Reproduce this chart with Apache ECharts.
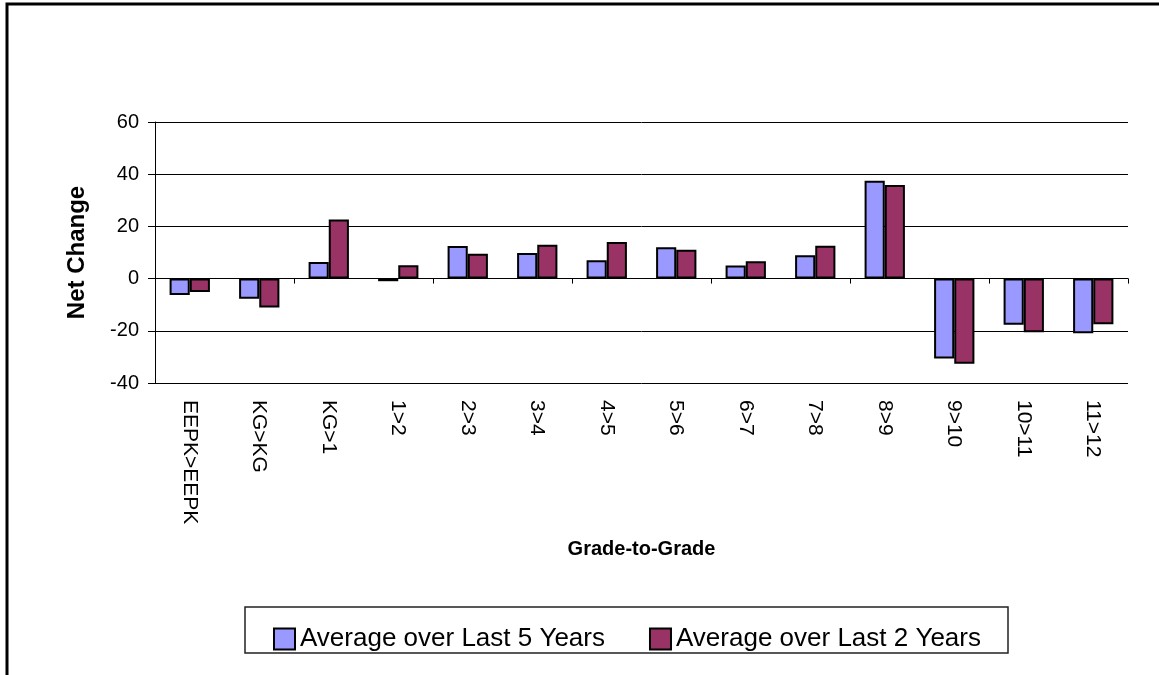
<!DOCTYPE html>
<html>
<head>
<meta charset="utf-8">
<title>Net Change Grade-to-Grade</title>
<script src="https://cdn.jsdelivr.net/npm/echarts@6/dist/echarts.min.js"></script>
<style>
    html, body { margin: 0; padding: 0; background: #fff; }
    #chart { width: 1159px; height: 675px; }
</style>
</head>
<body>
<div id="chart"></div>
<script>
var grades = ['EEPK>EEPK', 'KG>KG', 'KG>1', '1>2', '2>3', '3>4', '4>5', '5>6', '6>7', '7>8', '8>9', '9>10', '10>11', '11>12'];
var last5 = [-6.3, -7.7, 6.4, -1, 12.5, 9.8, 7.0, 12.0, 5.0, 8.9, 37.5, -30.6, -17.7, -20.9];
var last2 = [-5.1, -11.1, 22.6, 5.1, 9.5, 13.0, 14.0, 11.1, 6.6, 12.6, 35.9, -32.6, -20.6, -17.5];
var seriesNames = ['Average over Last 5 Years', 'Average over Last 2 Years'];
var yTicks = { min: -40, max: 60, step: 20 };

var font = 'Liberation Sans, Arial, sans-serif';

function init() {
    var myChart = echarts.init(document.getElementById('chart'));
    var option = {
        animation: false,
        backgroundColor: '#fff',
        textStyle: { fontFamily: font, color: '#000' },
        graphic: [
            // outer chart frame
            { type: 'rect', shape: { x: 7, y: 4, width: 1200, height: 720 },
              style: { fill: 'none', stroke: '#000', lineWidth: 3 }, silent: true },
            // legend frame
            { type: 'rect', shape: { x: 245, y: 607, width: 763, height: 46 },
              style: { fill: 'none', stroke: '#222', lineWidth: 1.5 }, silent: true }
        ],
        grid: { left: 155, right: 31, top: 122, bottom: 292 },
        legend: {
            left: 268,
            top: 621,
            itemWidth: 21,
            itemHeight: 21,
            itemGap: 44,
            icon: 'rect',
            textStyle: { fontSize: 26, color: '#000', fontFamily: font },
            data: seriesNames
        },
        xAxis: [{
            type: 'category',
            data: grades,
            position: 'bottom',
            axisLine: { show: false, onZero: false },
            axisTick: { show: false },
            axisLabel: { rotate: -90, interval: 0, fontSize: 21, color: '#000', margin: 17, fontFamily: font },
            name: 'Grade-to-Grade',
            nameLocation: 'middle',
            nameGap: 156,
            nameTextStyle: { fontSize: 20, fontWeight: 'bold', color: '#000', fontFamily: font }
        }, {
            type: 'category',
            data: grades,
            position: 'bottom',
            axisLine: { show: true, onZero: true, lineStyle: { color: '#000', width: 1 } },
            axisTick: { show: true, length: 5, lineStyle: { color: '#000' } },
            axisLabel: { show: false },
            splitLine: { show: false }
        }],
        yAxis: {
            type: 'value',
            min: yTicks.min,
            max: yTicks.max,
            interval: yTicks.step,
            axisLine: { show: true, lineStyle: { color: '#000', width: 1 } },
            axisTick: { show: true, length: 7, lineStyle: { color: '#000' } },
            axisLabel: { fontSize: 20, color: '#000', margin: 16, fontFamily: font },
            splitLine: { show: true, lineStyle: { color: '#000', width: 1 } },
            name: 'Net Change',
            nameLocation: 'middle',
            nameGap: 66,
            nameTextStyle: { fontSize: 24, fontWeight: 'bold', color: '#000', fontFamily: font }
        },
        series: []
    };

    var colors = ['#9999ff', '#993366'];
    var values = [last5, last2];
    for (var i = 0; i < seriesNames.length; i++) {
        option.series.push({
            name: seriesNames[i],
            type: 'bar',
            xAxisIndex: 0,
            data: values[i],
            barGap: '0%',
            barCategoryGap: '42%',
            itemStyle: { color: colors[i], borderColor: '#000', borderWidth: 2 }
        });
    }

    myChart.setOption(option);
}

init();
</script>
</body>
</html>
